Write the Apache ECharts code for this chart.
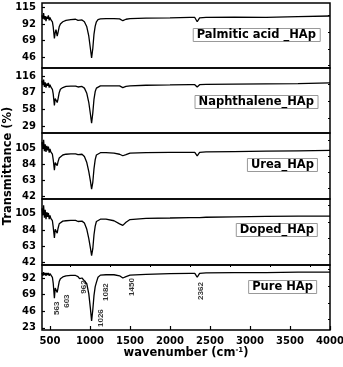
<!DOCTYPE html>
<html>
<head>
<meta charset="utf-8">
<script src="https://cdn.jsdelivr.net/npm/echarts@6/dist/echarts.min.js"></script>
<style>
    html, body { margin: 0; padding: 0; background: #fff; }
    #chart { width: 343px; height: 367px; }
</style>
</head>
<body>
<div id="chart"></div>
<script>
    // wavenumber (cm-1) shared by every spectrum
    const wavenumber = [400, 410, 420, 430, 440, 450, 460, 470, 480, 490, 500, 510, 520, 530, 540, 555, 565, 575, 590, 600,
        615, 630, 660, 700, 760, 820, 850, 870, 900, 930, 960, 985, 1005, 1020, 1035, 1050, 1065, 1080, 1100, 1130,
        1200, 1300, 1370, 1410, 1450, 1500, 1700, 2000, 2250, 2310, 2340, 2370, 2450, 2800, 3200, 3600, 4000];

    // transmittance (%) for each sample, top panel first
    const palmitic = [104, 99, 107, 98, 103, 96, 102, 99, 104, 97, 101, 98, 100, 95, 88, 72, 80, 84, 75, 80,
        88, 92, 95, 97, 98, 98.5, 97, 98, 97.5, 95, 88, 75, 58, 45, 58, 78, 89, 95, 98, 99,
        99.5, 99.5, 99, 96.5, 98.5, 99.5, 100, 100.5, 101, 101, 95, 100.5, 101, 101.5, 101, 102, 103];
    const naphthalene = [108, 100, 110, 97, 105, 96, 103, 99, 104, 96, 101, 97, 99, 93, 85, 65, 77, 80, 70, 76,
        87, 93, 96, 98, 98.5, 98.5, 97, 98.5, 98, 95, 86, 70, 50, 34, 52, 76, 89, 95, 98, 99,
        99, 99, 99, 96, 98, 99, 100, 100.5, 101, 101, 97, 101, 101.5, 102, 102.5, 103, 104];
    const urea = [113, 104, 116, 101, 110, 100, 108, 102, 107, 99, 104, 100, 102, 97, 90, 76, 86, 88, 82, 87,
        92, 94, 96, 97, 97.5, 97.5, 96.5, 95, 97, 94, 86, 74, 62, 51, 60, 78, 90, 96, 98.5, 99,
        99, 98.5, 97, 95, 96.5, 98.5, 99, 99.5, 99.5, 99.5, 95, 99.5, 100, 100.5, 101, 101.5, 102];
    const doped = [112, 103, 116, 100, 110, 98, 107, 101, 106, 98, 103, 99, 101, 96, 88, 74, 85, 86, 80, 86,
        92, 94, 95.5, 96, 96.5, 96.5, 95, 93.5, 95.5, 93, 85, 73, 61, 51, 60, 78, 89, 95, 97.5, 98,
        98, 96, 92, 90, 94, 97.5, 99, 99.5, 100, 100, 100, 100, 100.5, 101, 101.5, 102, 102];
    const pure = [99, 95, 100, 96, 99, 95, 99, 96, 99, 95, 98, 96, 97, 93, 85, 64, 78, 80, 72, 78,
        87, 91, 93.5, 95, 95.5, 95.5, 94, 91, 92, 88, 84, 70, 50, 32.5, 48, 68, 80, 86, 93, 96,
        96.5, 96.5, 95, 92, 94, 96, 97, 98, 98.5, 98.5, 93, 98.5, 99, 99.5, 99.5, 100, 100];

    const sampleNames = ['Palmitic acid _HAp', 'Naphthalene_HAp', 'Urea_HAp', 'Doped_HAp', 'Pure HAp'];
    const yMins = [31, 17, 38, 39, 20];
    const yMaxs = [121, 130, 125, 124, 110];
    const yTicks = [
        [46, 69, 92, 115],
        [29, 58, 87, 116],
        [42, 63, 84, 105],
        [42, 63, 84, 105],
        [23, 46, 69, 92]
    ];
    const xTicks = [500, 1000, 1500, 2000, 2500, 3000, 3500, 4000];
    const xMinorTicks = [750, 1250, 1750, 2250, 2750, 3250, 3750];

    // band labels in the bottom panel
    const peakLabels = ['563', '603', '962', '1026', '1082', '1450', '2362'];
    const peakLabelX = [587, 712, 925, 1134, 1200, 1521, 2387];
    const peakLabelY = [50, 60, 79.5, 36.5, 72.5, 79.5, 74];

    const spectra = [palmitic, naphthalene, urea, doped, pure];

    const gridTops = [3, 68, 133, 199, 265];
    const gridHeights = [65, 65, 66, 66, 65];
    const boxTops = [28, 95, 158, 223, 280];
    const boxRights = [23, 25, 25, 25, 26];

    const FONT = 'DejaVu Sans';

    let chart = echarts.init(document.getElementById('chart'));

    let grid = [], xAxis = [], yAxis = [], series = [], title = [];

    spectra.forEach((vals, i) => {
        grid.push({
            left: 42,
            width: 288,
            top: gridTops[i],
            height: gridHeights[i],
            containLabel: false,
            outerBoundsMode: 'none',
            show: true,
            borderColor: '#000',
            borderWidth: 1.5,
            backgroundColor: 'transparent'
        });
        let last = i === spectra.length - 1;
        xAxis.push({
            type: 'value',
            gridIndex: i,
            min: 400,
            max: 4000,
            splitLine: { show: false },
            axisLine: { show: false },
            axisTick: { show: last, inside: true, length: 4, customValues: xTicks, lineStyle: { color: '#000', width: 1.2 } },
            axisLabel: {
                show: last,
                customValues: xTicks,
                formatter: v => String(v),
                margin: 6,
                color: '#000',
                fontFamily: FONT,
                fontWeight: 'bold',
                fontSize: 10
            },
            name: last ? '{a|wavenumber (cm}{s|-1}{a|)}' : '',
            nameLocation: 'middle',
            nameGap: 17,
            nameMoveOverlap: false,
            nameTextStyle: {
                rich: {
                    a: { fontFamily: FONT, fontWeight: 'bold', fontSize: 11.5, color: '#000' },
                    s: { fontFamily: FONT, fontWeight: 'bold', fontSize: 7, color: '#000', verticalAlign: 'top', padding: [0, 0, 6, 0] }
                }
            }
        });
        yAxis.push({
            type: 'value',
            gridIndex: i,
            min: yMins[i],
            max: yMaxs[i],
            splitLine: { show: false },
            axisLine: { show: false },
            axisTick: { show: true, inside: true, length: 3, customValues: yTicks[i], lineStyle: { color: '#000', width: 1.2 } },
            axisLabel: {
                customValues: yTicks[i],
                margin: 6,
                color: '#000',
                fontFamily: FONT,
                fontWeight: 'bold',
                fontSize: 10
            },
            name: i === 2 ? 'Transmittance (%)' : '',
            nameLocation: 'middle',
            nameGap: 28,
            nameMoveOverlap: false,
            nameTextStyle: { fontFamily: FONT, fontWeight: 'bold', fontSize: 11.5, color: '#000' }
        });
        series.push({
            type: 'line',
            xAxisIndex: i,
            yAxisIndex: i,
            showSymbol: false,
            symbol: 'none',
            lineStyle: { color: '#000', width: 1.3 },
            data: wavenumber.map((w, j) => [w, vals[j]])
        });
        title.push({
            text: sampleNames[i],
            right: boxRights[i],
            top: boxTops[i],
            padding: [1, 4, 0, 4],
            backgroundColor: '#fff',
            borderColor: '#999',
            borderWidth: 1,
            textStyle: { fontFamily: FONT, fontWeight: 'bold', fontSize: 11.5, color: '#000', lineHeight: 13 }
        });
    });

    // minor ticks: extra axes with only short ticks
    xAxis.push({
        type: 'value', gridIndex: 4, min: 400, max: 4000,
        splitLine: { show: false }, axisLine: { show: false }, axisLabel: { show: false },
        axisTick: { inside: true, length: 2, customValues: xMinorTicks, lineStyle: { color: '#000', width: 1 } }
    });
    yTicks.forEach((ticks, i) => {
        let step = ticks[1] - ticks[0];
        let minor = [ticks[0] - step / 2].concat(ticks.map(t => t + step / 2)).filter(v => v > yMins[i] && v < yMaxs[i]);
        yAxis.push({
            type: 'value', gridIndex: i, min: yMins[i], max: yMaxs[i],
            splitLine: { show: false }, axisLine: { show: false }, axisLabel: { show: false },
            axisTick: { inside: true, length: 2, customValues: minor, lineStyle: { color: '#000', width: 1 } }
        });
    });

    series.push({
        type: 'scatter',
        xAxisIndex: 4,
        yAxisIndex: 4,
        symbolSize: 0,
        silent: true,
        label: {
            show: true,
            position: 'inside',
            rotate: 90,
            formatter: p => p.name,
            fontFamily: 'Liberation Sans',
            fontWeight: 'bold',
            fontSize: 8,
            color: '#000'
        },
        data: peakLabels.map((t, k) => ({ name: t, value: [peakLabelX[k], peakLabelY[k]] }))
    });

    chart.setOption({
        animation: false,
        backgroundColor: '#fff',
        title: title,
        grid: grid,
        xAxis: xAxis,
        yAxis: yAxis,
        series: series
    });
</script>
</body>
</html>
